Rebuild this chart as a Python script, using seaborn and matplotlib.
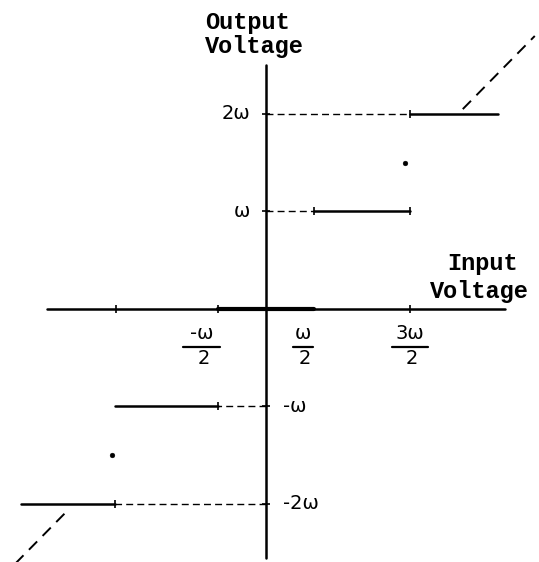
import numpy as np
import pandas as pd
import matplotlib
matplotlib.use('Agg')
import matplotlib.pyplot as plt
import seaborn as sns

# Quantizer staircase, units of omega
levels = [-2, -1, 0, 1, 2]
step_lo = [-2.55, -1.57, -0.5, 0.5, 1.5]
step_hi = [-1.57, -0.5, 0.5, 1.5, 2.42]
guide_end = [-1.57, -0.5, 0.0, 0.5, 1.5]   # dashed guide from y-axis to step

diag_segs = [[2.05, 2.8], [-2.1, -2.7]]   # y = x reference line
mid_x = [-1.6, 1.45]
mid_y = [-1.5, 1.5]

ytick_vals = [2, 1, -1, -2]
ytick_labels = ['2ω', 'ω', '-ω', '-2ω']
xfrac_pos = [-0.67, 0.385, 1.5]
xfrac_num = ['-ω', 'ω', '3ω']
xfrac_den = ['2', '2', '2']
xtick_marks = [-1.56, -0.5, 1.5]

x_axis = [-2.28, 2.49]
y_axis = [-2.55, 2.5]

sns.set_style('white')
plt.rcParams['font.family'] = ['DejaVu Sans']
plt.rcParams['text.color'] = 'black'

fig = plt.figure(figsize=(5.39, 5.62), dpi=100)
ax = fig.add_axes([0, 0, 1, 1])
ax.set_xlim(-2.771, 2.844)
ax.set_ylim(-2.595, 3.169)
ax.axis('off')

# axes
axes_df = pd.DataFrame({
    'x': x_axis + [0, 0],
    'y': [0, 0] + y_axis,
    'seg': ['h', 'h', 'v', 'v'],
})
sns.lineplot(data=axes_df, x='x', y='y', units='seg', estimator=None, sort=False,
             color='black', lw=1.8, ax=ax)

# steps
rows = []
for lv, lo, hi in zip(levels, step_lo, step_hi):
    if lv == 0:
        continue
    rows += [{'x': lo, 'y': lv, 'seg': lv}, {'x': hi, 'y': lv, 'seg': lv}]
steps_df = pd.DataFrame(rows)
sns.lineplot(data=steps_df, x='x', y='y', units='seg', estimator=None, sort=False,
             color='black', lw=1.8, ax=ax)

zero_i = levels.index(0)
sns.lineplot(x=[step_lo[zero_i], step_hi[zero_i]], y=[0, 0], estimator=None, sort=False,
             color='black', lw=3.0, ax=ax)

# dashed guides
rows = []
for lv, g in zip(levels, guide_end):
    if lv == 0:
        continue
    rows += [{'x': 0, 'y': lv, 'seg': lv}, {'x': g, 'y': lv, 'seg': lv}]
guide_df = pd.DataFrame(rows)
sns.lineplot(data=guide_df, x='x', y='y', units='seg', estimator=None, sort=False,
             color='black', lw=1.0, linestyle=(0, (5, 3)), ax=ax)

# diagonal y = x
rows = []
for i, seg in enumerate(diag_segs):
    rows += [{'x': seg[0], 'y': seg[0], 'seg': i}, {'x': seg[1], 'y': seg[1], 'seg': i}]
diag_df = pd.DataFrame(rows)
sns.lineplot(data=diag_df, x='x', y='y', units='seg', estimator=None, sort=False,
             color='black', lw=1.4, linestyle=(0, (6, 4)), ax=ax)

# midpoint dots
sns.scatterplot(x=mid_x, y=mid_y, color='black', s=12, edgecolor=None, ax=ax)

# small ticks
sns.scatterplot(x=[0] * len(ytick_vals), y=ytick_vals, marker='_', s=40,
                color='black', linewidth=1.2, ax=ax)
sns.scatterplot(x=xtick_marks, y=[0] * len(xtick_marks), marker='|', s=30,
                color='black', linewidth=1.2, ax=ax)
sns.scatterplot(x=[1.5, 1.5, 0.5, -0.5, -1.57], y=[2, 1, 1, -1, -2], marker='|', s=30,
                color='black', linewidth=1.2, ax=ax)

# y labels
for v, lab in zip(ytick_vals, ytick_labels):
    if v > 0:
        ax.text(-0.167, v, lab, ha='right', va='center', fontsize=14)
    else:
        ax.text(0.177, v, lab, ha='left', va='center', fontsize=14)

# x fraction labels
for xp, num, den in zip(xfrac_pos, xfrac_num, xfrac_den):
    ax.text(xp, -0.25, num, ha='center', va='center', fontsize=14)
    ax.text(xp + 0.02, -0.51, den, ha='center', va='center', fontsize=14)
    half = 0.1 + 0.09 * (len(num) - 1)
    ax.plot([xp - half, xp + half], [-0.39, -0.39], color='black', lw=1.6)

# axis titles in typewriter style
mono = dict(family='Liberation Mono', fontsize=17, fontweight='bold')
ax.text(-0.635, 2.87, 'Output', ha='left', va='baseline', **mono)
ax.text(-0.635, 2.63, 'Voltage', ha='left', va='baseline', **mono)
ax.text(2.26, 0.40, 'Input', ha='center', va='baseline', **mono)
ax.text(2.22, 0.113, 'Voltage', ha='center', va='baseline', **mono)

fig.savefig('out.png', dpi=100)
